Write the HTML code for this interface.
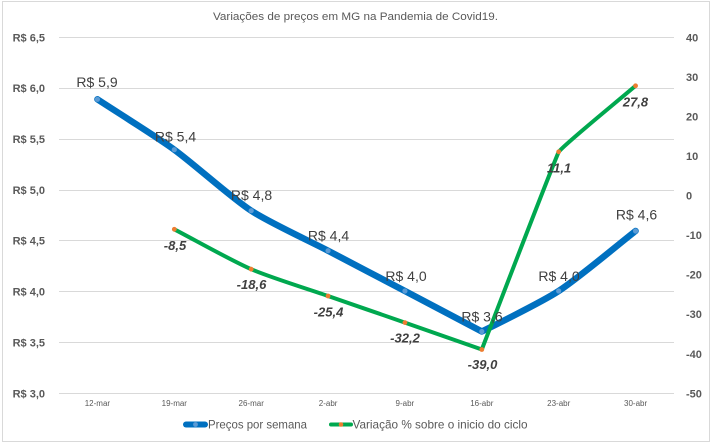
<!DOCTYPE html>
<html>
<head>
<meta charset="utf-8">
<style>
  html, body { margin:0; padding:0; background:#ffffff; }
  svg { display:block; }
  text { font-family: "Liberation Sans", "DejaVu Sans", sans-serif; }
</style>
</head>
<body>
<svg width="714" height="446" viewBox="0 0 714 446" xmlns="http://www.w3.org/2000/svg">
  <rect x="0" y="0" width="714" height="446" fill="#ffffff"/>
  <rect x="2.5" y="1.5" width="707" height="440" fill="#ffffff" stroke="#d9d9d9" stroke-width="1"/>

  <!-- title -->
  <text x="213" y="20" font-size="11" fill="#595959" textLength="285" lengthAdjust="spacingAndGlyphs">Variações de preços em MG na Pandemia de Covid19.</text>

  <!-- gridlines -->
  <g stroke="#d9d9d9" stroke-width="1">
    <line x1="59" y1="37.5" x2="674" y2="37.5"/>
    <line x1="59" y1="88.5" x2="674" y2="88.5"/>
    <line x1="59" y1="139.5" x2="674" y2="139.5"/>
    <line x1="59" y1="190.5" x2="674" y2="190.5"/>
    <line x1="59" y1="240.5" x2="674" y2="240.5"/>
    <line x1="59" y1="291.5" x2="674" y2="291.5"/>
    <line x1="59" y1="342.5" x2="674" y2="342.5"/>
    <line x1="59" y1="393.5" x2="674" y2="393.5"/>
  </g>

  <!-- left axis labels -->
  <g font-size="11" font-weight="bold" fill="#595959" text-anchor="end">
    <text x="45" y="41.3">R$ 6,5</text>
    <text x="45" y="92.2">R$ 6,0</text>
    <text x="45" y="143">R$ 5,5</text>
    <text x="45" y="193.9">R$ 5,0</text>
    <text x="45" y="244.7">R$ 4,5</text>
    <text x="45" y="295.6">R$ 4,0</text>
    <text x="45" y="346.5">R$ 3,5</text>
    <text x="45" y="397.3">R$ 3,0</text>
  </g>

  <!-- right axis labels -->
  <g font-size="11" font-weight="bold" fill="#595959" text-anchor="start">
    <text x="686" y="41.3">40</text>
    <text x="686" y="80.9">30</text>
    <text x="686" y="120.4">20</text>
    <text x="686" y="160">10</text>
    <text x="686" y="199.5">0</text>
    <text x="686" y="239.1">-10</text>
    <text x="686" y="278.7">-20</text>
    <text x="686" y="318.2">-30</text>
    <text x="686" y="357.8">-40</text>
    <text x="686" y="397.3">-50</text>
  </g>

  <!-- x axis labels -->
  <g font-size="8" fill="#595959" text-anchor="middle">
    <text x="97.4" y="406">12-mar</text>
    <text x="174.3" y="406">19-mar</text>
    <text x="251.2" y="406">26-mar</text>
    <text x="328.1" y="406">2-abr</text>
    <text x="404.9" y="406">9-abr</text>
    <text x="481.8" y="406">16-abr</text>
    <text x="558.7" y="406">23-abr</text>
    <text x="635.6" y="406">30-abr</text>
  </g>

  <!-- blue series -->
  <path d="M97.44,99.3 C116.66,111.9 155.70,136.22 174.31,149.7
           C194.17,164.09 230.69,197.23 251.19,210.7
           C269.31,222.60 308.84,240.66 328.06,250.7
           C347.29,260.75 385.73,280.91 404.94,291.0
           C424.18,301.11 481.81,331.5 481.81,331.5
           C481.81,331.5 540.50,302.89 558.69,291.0
           C579.10,277.66 616.34,246.0 635.56,231.0"
        fill="none" stroke="#0070c0" stroke-width="6.5" stroke-linecap="round" stroke-linejoin="round"/>
  <g fill="#5b9bd5">
    <circle cx="97.44" cy="99.3" r="2.6"/>
    <circle cx="174.31" cy="149.7" r="2.6"/>
    <circle cx="251.19" cy="210.7" r="2.6"/>
    <circle cx="328.06" cy="250.7" r="2.6"/>
    <circle cx="404.94" cy="291.0" r="2.6"/>
    <circle cx="481.81" cy="331.5" r="2.6"/>
    <circle cx="558.69" cy="291.0" r="2.6"/>
    <circle cx="635.56" cy="231.0" r="2.6"/>
  </g>

  <!-- green series -->
  <path d="M174.31,229.3 C193.53,239.28 231.33,260.58 251.19,269.2
           C269.86,277.30 308.84,289.32 328.06,296.0
           C347.27,302.67 385.73,315.92 404.94,322.6
           C424.17,329.29 481.81,349.5 481.81,349.5
           C481.81,349.5 546.5,181 558.69,151.8
           C566.5,142.5 616.34,102.3 635.56,85.8"
        fill="none" stroke="#00a84f" stroke-width="4" stroke-linecap="round" stroke-linejoin="round"/>
  <g fill="#ed7d31">
    <circle cx="174.31" cy="229.3" r="2.4"/>
    <circle cx="251.19" cy="269.2" r="2.4"/>
    <circle cx="328.06" cy="296.0" r="2.4"/>
    <circle cx="404.94" cy="322.6" r="2.4"/>
    <circle cx="481.81" cy="349.5" r="2.4"/>
    <circle cx="558.69" cy="151.8" r="2.4"/>
    <circle cx="635.56" cy="85.8" r="2.4"/>
  </g>

  <!-- blue data labels -->
  <g font-size="14" fill="#404040" text-anchor="middle">
    <text x="97" y="87">R$ 5,9</text>
    <text x="175.5" y="141.5">R$ 5,4</text>
    <text x="251.5" y="200">R$ 4,8</text>
    <text x="328.5" y="240.5">R$ 4,4</text>
    <text x="406" y="281">R$ 4,0</text>
    <text x="482" y="321.5">R$ 3,6</text>
    <text x="559" y="281">R$ 4,0</text>
    <text x="636.5" y="219.5">R$ 4,6</text>
  </g>

  <!-- green data labels -->
  <g font-size="13" font-weight="bold" font-style="italic" fill="#404040" text-anchor="middle">
    <text x="175" y="250">-8,5</text>
    <text x="251.5" y="289">-18,6</text>
    <text x="328.5" y="316.5">-25,4</text>
    <text x="405" y="342.5">-32,2</text>
    <text x="482.5" y="369">-39,0</text>
    <text x="559" y="172.5">11,1</text>
    <text x="635.5" y="106.5">27,8</text>
  </g>

  <!-- legend -->
  <line x1="186" y1="424.5" x2="205" y2="424.5" stroke="#0070c0" stroke-width="6" stroke-linecap="round"/>
  <circle cx="195.5" cy="424.5" r="2.4" fill="#5b9bd5"/>
  <text x="208" y="428.5" font-size="12" fill="#595959" textLength="99" lengthAdjust="spacingAndGlyphs">Preços por semana</text>

  <line x1="331" y1="424.5" x2="351" y2="424.5" stroke="#00a84f" stroke-width="4" stroke-linecap="round"/>
  <circle cx="341" cy="424.5" r="2.3" fill="#ed7d31"/>
  <text x="352.5" y="428.5" font-size="12" fill="#595959" textLength="175" lengthAdjust="spacingAndGlyphs">Variação % sobre o inicio do ciclo</text>
</svg>
</body>
</html>
